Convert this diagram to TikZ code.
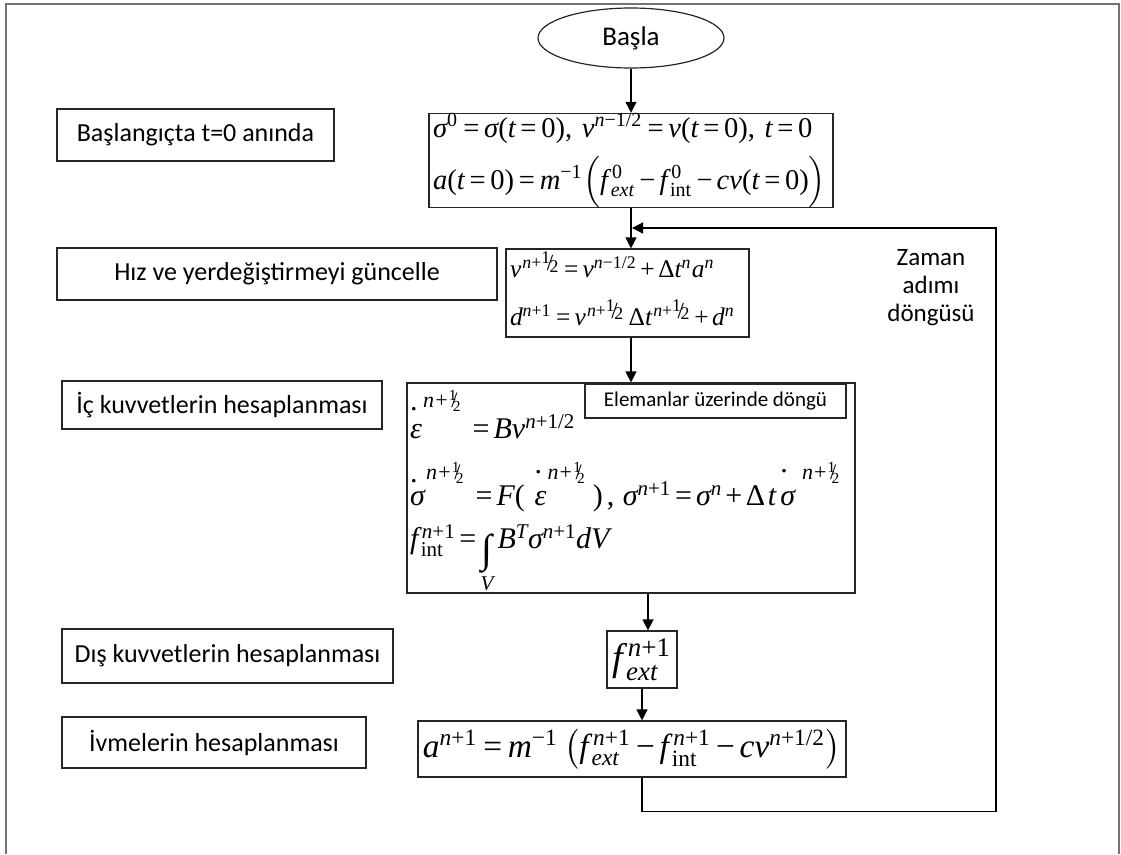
\documentclass[tikz,border=0pt]{standalone}
\usepackage{amsmath}
\usepackage[no-math]{fontspec}
\setmainfont{Carlito}
\newfontfamily\tmsfam{Liberation Serif}[NFSSFamily=tms]
\DeclareSymbolFont{tmsit}{TU}{tms}{m}{it}
\DeclareSymbolFont{tmsup}{TU}{tms}{m}{n}
\makeatletter
\count@=`a \loop \Umathcode\count@=7 \symtmsit \count@ \ifnum\count@<`z \advance\count@ 1 \repeat
\count@=`A \loop \Umathcode\count@=7 \symtmsit \count@ \ifnum\count@<`Z \advance\count@ 1 \repeat
\count@=`0 \loop \Umathcode\count@=0 \symtmsup \count@ \ifnum\count@<`9 \advance\count@ 1 \repeat
\makeatother
\Umathcode`= = 3 \symtmsup `=
\Umathcode`+ = 2 \symtmsup `+
\Umathcode`- = 2 \symtmsup "2212
\Umathcode`( = 4 \symtmsup `(
\Umathcode`) = 5 \symtmsup `)
\Umathcode`/ = 0 \symtmsup `/
\Umathcode`, = 6 \symtmsup `,
\Umathchardef\sigma=0 \symtmsit "03C3
\Umathchardef\varepsilon=0 \symtmsit "03B5
\Umathchardef\Delta=0 \symtmsup "0394
\newcommand{\rint}{\text{\tmsfam int}}
\usepackage{graphicx}
\usetikzlibrary{arrows.meta,shapes.geometric}
% slashed one-half, two variants
\newcommand{\sfr}{{}^{1}\mkern-5mu/\mkern-4mu{}_{2}}
\newcommand{\sfrx}{\raisebox{0.2em}{$\scriptstyle 1$}\mkern-3mu\raisebox{-0.1em}{\scalebox{1.3}{$\scriptstyle /$}}\mkern-3mu\raisebox{-0.15em}{$\scriptstyle 2$}}
\newcommand{\dotl}[2]{\rlap{\smash{\raisebox{#1}{\tmsfam .}}}#2}
\newcommand{\hsup}[2]{^{\mkern1mu\smash{\raisebox{#1}{\fontsize{22}{22}\selectfont$\medmuskip=1mu\textstyle #2$}}}}
\newcommand{\tight}{\thickmuskip=3mu plus 1mu\medmuskip=2.5mu plus 1mu}
\newcommand{\bigint}{\mathop{\raisebox{-14pt}{\tmsfam\fontsize{40}{40}\selectfont ∫}}\limits}
\tikzset{
  box/.style={draw=black!85,line width=1.2pt,fill=white,inner sep=0pt},
  lab/.style={box,font=\fontsize{26}{30}\selectfont},
  eq/.style={box},
  startnode/.style={ellipse,draw=black!85,line width=1.2pt,inner sep=0pt,
    minimum width=186pt,minimum height=60pt,font=\fontsize{27}{32}\selectfont},
  arr/.style={line width=1.3pt,-{Triangle[length=11pt,width=11pt]}},
  frame/.style={draw=black!55,line width=1.6pt}
}
\begin{document}
\begin{tikzpicture}[x=1pt,y=-1pt]
\useasboundingbox (0,0) rectangle (1121,854);
\draw[frame] (6,854) -- (6,4) -- (1119,4) -- (1119,854);

% main column
\node[startnode] (start) at (631,38) {Başla};
\node[eq,minimum width=404pt,minimum height=91pt] (init) at (631,160.5)
 {\makebox[396pt][l]{\resizebox{393pt}{!}{$\tight\begin{array}{@{}l@{}}
  \sigma^{0}=\sigma(t=0),\,v^{n-1/2}=v(t=0),\,t=0\\[3pt]
  a(t=0)=m^{-1}\Bigl(f^{\mkern3mu 0}_{\mkern2mu ext}-f^{\mkern3mu 0}_{\mkern2mu\rint}-cv(t=0)\Bigr)
  \end{array}$}}};
\node[eq,minimum width=243pt,minimum height=88pt] (upd) at (627.5,293)
 {\makebox[235pt][l]{\resizebox{225pt}{!}{$\tight\begin{array}{@{}l@{}}
  v^{\mkern1mu n+\sfrx}=v^{n-1/2}+\Delta t^{n}a^{n}\\[5pt]
  d^{n+1}=v^{\mkern1mu n+\sfrx}\,\Delta t^{\mkern1mu n+\sfrx}+d^{n}
  \end{array}$}}};
\node[eq,minimum width=448pt,minimum height=210pt] (int) at (631,488) {};
\node[inner sep=0pt,anchor=base west,font=\fontsize{30}{36}\selectfont] (inteq) at (410,438)
 {$\tight\begin{array}[t]{@{}l@{}}
  \dotl{28pt}{\varepsilon}\hsup{21pt}{n+\sfr}\mkern5mu=Bv^{n+1/2}\\[31pt]
  \dotl{23pt}{\sigma}\hsup{16pt}{n+\sfr}\mkern5mu=F(\mkern7mu\dotl{32pt}{\varepsilon}\hsup{16pt}{n+\sfr}\mkern5mu)\mkern3mu,\,\sigma^{n+1}=\sigma^{n}+\Delta\mkern2mu t\,\dotl{33pt}{\sigma}\hsup{16pt}{\mkern5mu n+\sfr}\\[7pt]
  f^{\mkern3mu n+1}_{\mkern2mu\rint}=\bigint_{V}B^{T}\sigma^{n+1}dV
  \end{array}$};
\node[box,minimum width=261pt,minimum height=34pt,font=\fontsize{21}{25}\selectfont]
  (elem) at (715.5,401) {Elemanlar üzerinde döngü};
\node[eq,minimum width=70pt,minimum height=57pt] (fext) at (642,659.5)
 {\resizebox{60pt}{!}{$f^{\mkern3mu n+1}_{\mkern2mu ext}$}};
\node[eq,minimum width=428pt,minimum height=56pt] (acc) at (632,749)
 {\resizebox{418pt}{!}{$\tight a^{n+1}=m^{-1}\left(f^{\mkern3mu n+1}_{\mkern2mu ext}-f^{\mkern3mu n+1}_{\mkern2mu\rint}-cv^{n+1/2}\right)$}};

% left labels
\node[lab,minimum width=277pt,minimum height=52pt] (l1) at (195.5,135) {Başlangıçta t=0 anında};
\node[lab,minimum width=440pt,minimum height=52pt] (l2) at (277,274) {Hız ve yerdeğiştirmeyi güncelle};
\node[lab,minimum width=320pt,minimum height=48pt] (l3) at (222,405) {İç kuvvetlerin hesaplanması};
\node[lab,minimum width=331pt,minimum height=54pt] (l4) at (227.5,656) {Dış kuvvetlerin hesaplanması};
\node[lab,minimum width=304pt,minimum height=51pt] (l5) at (214,742.5) {İvmelerin hesaplanması};

% loop label
\node[font=\fontsize{25}{28}\selectfont,align=center,inner sep=0pt] (loop) at (931,288)
  {Zaman\\adımı\\döngüsü};

% connectors
\coordinate (rt) at (996,228);
\coordinate (loopin) at (632,228);
\draw[arr] (start.south) -- (start.south |- init.north);
\draw[arr] (init.south) -- (init.south |- upd.north);
\draw[arr] (init.south |- upd.south) -- (init.south |- int.north);
\draw[arr] ([xshift=6pt]fext.north |- int.south) -- ([xshift=6pt]fext.north);
\draw[arr] (fext.south) -- (fext.south |- acc.north);
\draw[arr] (fext.south |- acc.south) -- ++(0,34) -| (rt) -- (loopin);
\end{tikzpicture}
\end{document}
